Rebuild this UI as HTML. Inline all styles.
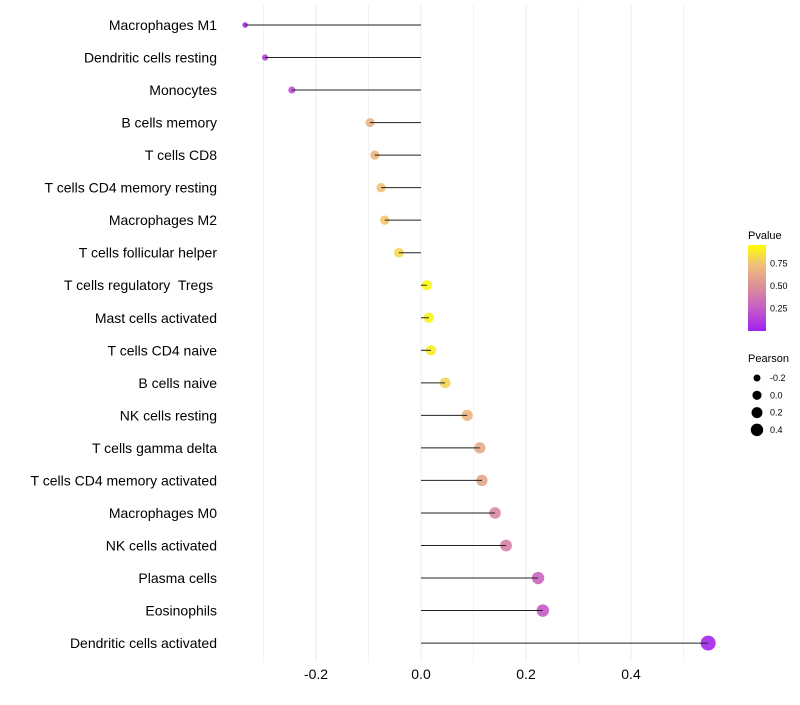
<!DOCTYPE html>
<html><head><meta charset="utf-8"><style>
body{margin:0;background:#fff;font-family:"Liberation Sans",sans-serif}
text{white-space:pre}
</style></head><body>
<svg id="c" width="800" height="700" xmlns="http://www.w3.org/2000/svg">
<defs><linearGradient id="pg" x1="0" y1="1" x2="0" y2="0">
<stop offset="0" stop-color="#a020f0"/><stop offset="0.26" stop-color="#c65cc6"/><stop offset="0.52" stop-color="#dc8f9a"/><stop offset="0.78" stop-color="#f0c278"/><stop offset="1" stop-color="#ffff00"/></linearGradient></defs>
<g id="grid"></g><g id="marks"></g><g id="labels"></g>
<g>
<text x="748" y="239" font-size="11">Pvalue</text>
<rect x="748" y="245" width="18" height="86" fill="url(#pg)"/>
<g id="cbt"></g>
<text x="748" y="362" font-size="11">Pearson</text>
<g id="szl"></g>
</g>
</svg>
<script>
const categories=["Macrophages M1","Dendritic cells resting","Monocytes","B cells memory","T cells CD8","T cells CD4 memory resting","Macrophages M2","T cells follicular helper","T cells regulatory  Tregs ","Mast cells activated","T cells CD4 naive","B cells naive","NK cells resting","T cells gamma delta","T cells CD4 memory activated","Macrophages M0","NK cells activated","Plasma cells","Eosinophils","Dendritic cells activated"];
const pearson=[-0.335,-0.297,-0.246,-0.097,-0.088,-0.076,-0.069,-0.042,0.011,0.015,0.019,0.046,0.088,0.112,0.116,0.141,0.162,0.223,0.232,0.547];
const pvalue=[0.03,0.12,0.2,0.7,0.72,0.78,0.8,0.86,0.97,0.96,0.93,0.84,0.72,0.66,0.63,0.5,0.45,0.3,0.25,0.02];
const xTicks=[-0.2,0,0.2,0.4];
const xMinor=[-0.3,-0.1,0.1,0.3,0.5];
const cbTicks=[0.25,0.5,0.75];
const sizeTicks=[-0.2,0,0.2,0.4];
const NS="http://www.w3.org/2000/svg";
const X=v=>421+v*525;
const Y=i=>25+i*32.53;
const R=v=>Math.sqrt(Math.max(2,26+55*v));
function col(p){const st=[[0,[160,32,240]],[0.26,[198,92,198]],[0.52,[220,143,154]],[0.78,[240,194,120]],[1,[255,255,0]]];
for(let k=1;k<st.length;k++){if(p<=st[k][0]){const t=(p-st[k-1][0])/(st[k][0]-st[k-1][0]);const a=st[k-1][1],b=st[k][1];return `rgb(${a.map((c,j)=>Math.round(c+(b[j]-c)*t)).join(',')})`;}}return 'rgb(255,255,0)';}
function mk(tag,at,parent){const e=document.createElementNS(NS,tag);for(const k in at)e.setAttribute(k,at[k]);document.getElementById(parent).appendChild(e);return e;}
xMinor.forEach(v=>{const l=mk('line',{x1:X(v),x2:X(v),y1:5,y2:662,stroke:'#f2f2f2','stroke-width':1},'grid');

});
xTicks.forEach(v=>{const l=mk('line',{x1:X(v),x2:X(v),y1:5,y2:662,stroke:'#ebebeb','stroke-width':1},'grid');


const t=mk('text',{x:X(v),y:679,'font-size':14,'text-anchor':'middle',fill:'#000'},'labels');t.textContent=v===0?'0.0':v.toFixed(1);

});
categories.forEach((c,i)=>{const v=pearson[i];
const p=mk('circle',{cx:X(v),cy:Y(i),r:R(v),fill:col(pvalue[i]),'fill-opacity':0.9},'marks');


const l=mk('line',{x1:X(0),x2:X(v),y1:Y(i),y2:Y(i),stroke:'#222','stroke-width':1},'marks');


const t=mk('text',{x:217,y:Y(i)+5,'font-size':14,'text-anchor':'end',fill:'#000'},'labels');t.textContent=c;

});
cbTicks.forEach(v=>{const y=331-v*90;
const t=mk('text',{x:770,y:y+3,'font-size':9},'cbt');t.textContent=v.toFixed(2);

});
sizeTicks.forEach((v,i)=>{const y=378+i*17.3;
const c=mk('circle',{cx:757,cy:y,r:R(v)*0.9,fill:'#000'},'szl');


const t=mk('text',{x:770,y:y+3,'font-size':9},'szl');t.textContent=v===0?'0.0':v.toFixed(1);

});
</script>
</body></html>
